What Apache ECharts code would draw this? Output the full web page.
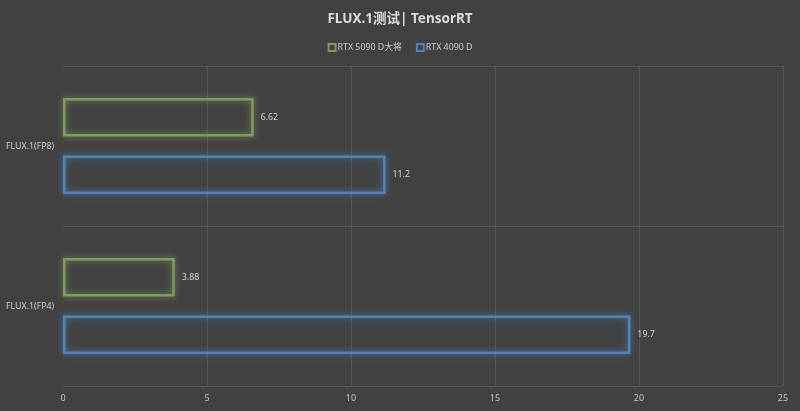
<!DOCTYPE html>
<html><head><meta charset="utf-8">
<script src="https://cdn.jsdelivr.net/npm/echarts@6/dist/echarts.min.js"></script>
<style>html,body{margin:0;padding:0;background:#414141;}#c{width:800px;height:411px;}</style>
</head><body><div id="c"></div>
<script>
const categories = ['FLUX.1(FP8)', 'FLUX.1(FP4)'];
const seriesNames = ['RTX 5090 D大将', 'RTX 4090 D'];
const rtx5090d = [6.62, 3.88];
const rtx4090d = [11.2, 19.7];
const xTicks = [0, 5, 10, 15, 20, 25];

const FONT = '"Noto Sans", "Open Sans", "Noto Sans CJK SC", sans-serif';
const colors = ['#7f9c5f', '#5084bd'];
const chart = echarts.init(document.getElementById('c'));
function mk(name, data, color) {
  return {
    name: name, type: 'bar', data: data,
    barGap: '50%', barCategoryGap: '40%',
    itemStyle: { color: 'rgba(0,0,0,0)', borderColor: color, borderWidth: 2.5, shadowColor: color, shadowBlur: 7 },
    label: { show: true, position: 'right', color: '#d4d4d4', fontSize: 8.8, fontFamily: FONT, distance: 7 }
  };
}
chart.setOption({
  backgroundColor: '#414141',
  animation: false,
  title: { text: 'FLUX.1测试| TensorRT', left: 'center', top: 7,
    textStyle: { color: '#dcdcdc', fontSize: 13.5, fontWeight: 'bold', fontFamily: FONT } },
  legend: { top: 38, left: 'center', itemWidth: 7, itemHeight: 7, itemGap: 14,
    icon: 'rect',
    textStyle: { color: '#cccccc', fontSize: 8.8, fontFamily: FONT, padding: [0,0,0,-3] },
    data: seriesNames },
  grid: { left: 63, right: 17, top: 66, bottom: 25, containLabel: false },
  xAxis: { type: 'value', min: xTicks[0], max: xTicks[xTicks.length-1], interval: 5,
    axisLine: { show: false }, axisTick: { show: false },
    axisLabel: { color: '#c8c8c8', fontSize: 9, fontFamily: FONT, margin: 8 },
    splitLine: { showMinLine: false, lineStyle: { color: '#575757', width: 1 } } },
  yAxis: { type: 'category', data: categories, inverse: true,
    axisLine: { show: false }, axisTick: { show: false },
    axisLabel: { color: '#cfcfcf', fontSize: 8.8, fontFamily: FONT, align: 'left', margin: 57 },
    splitLine: { show: true, lineStyle: { color: '#575757', width: 1 } } },
  series: [mk(seriesNames[0], rtx5090d, colors[0]), mk(seriesNames[1], rtx4090d, colors[1])]
});
</script></body></html>
